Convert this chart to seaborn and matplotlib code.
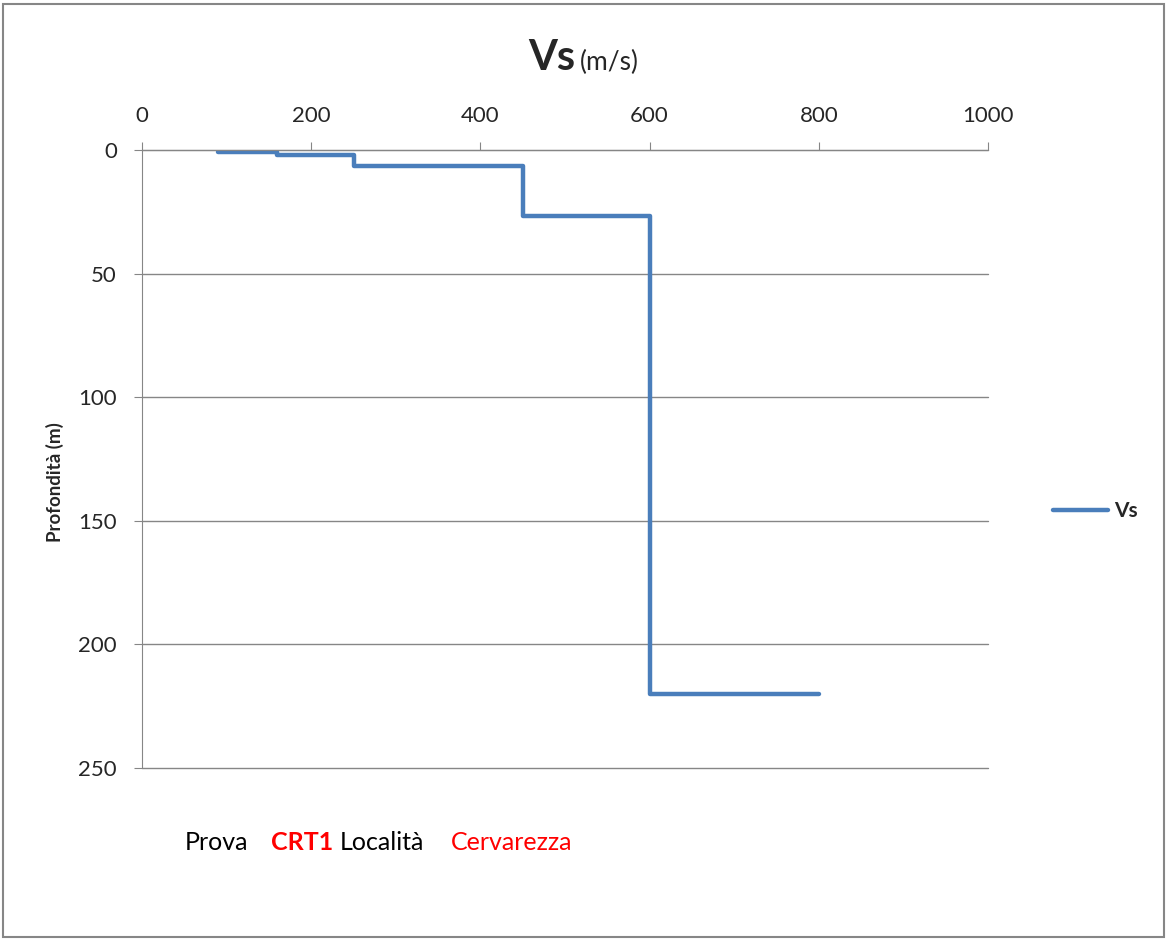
import matplotlib
matplotlib.use("Agg")
import matplotlib.pyplot as plt
import seaborn as sns
import pandas as pd

# Vs profile (step): velocity of each layer and depth of its base
velocita = [90, 160, 250, 450, 600, 800]
profondita = [1, 2, 6.5, 26.5, 220, 220]

df = pd.DataFrame({"Vs": velocita, "Profondita": profondita})

sns.set_style("white")
plt.rcParams["font.family"] = ["Lato", "DejaVu Sans"]

W, H = 1168, 940
fig = plt.figure(figsize=(W / 100, H / 100), dpi=100)
ax = fig.add_axes([142 / W, 1 - 768 / H, (988 - 142) / W, (768 - 150) / H])

sns.lineplot(data=df, x="Vs", y="Profondita", ax=ax, sort=False,
             drawstyle="steps-post", color="#4a7ebb", linewidth=3.2,
             label="Vs", legend=False)

ax.set_xlim(0, 1000)
ax.set_ylim(250, 0)
ax.set_xticks(range(0, 1001, 200))
ax.set_yticks(range(0, 251, 50))
ax.xaxis.tick_top()
ax.tick_params(axis="x", top=True, bottom=False, direction="out", length=6,
               color="#868686", labelsize=16, pad=11)
ax.tick_params(axis="y", left=True, direction="out", length=6,
               color="#868686", labelsize=16, pad=12)
ax.grid(axis="y", color="#868686", linewidth=1)
ax.grid(axis="x", visible=False)
for gl in ax.get_ygridlines():
    gl.set_clip_on(False)
for side in ["right", "bottom"]:
    ax.spines[side].set_visible(False)
ax.spines["left"].set_color("#868686")
ax.spines["top"].set_color("#868686")
ax.set_xlabel("")
ax.set_ylabel("Profondità (m)", fontsize=13.5, fontweight="bold", va="center")
ax.yaxis.set_label_coords((55 - 142) / 846, (768 - 482) / 618)

# title
tb = 1 - 70 / H
fig.text(575 / W, tb, "Vs", fontsize=30, fontweight="bold", ha="right", va="baseline")
fig.text(580 / W, tb, "(m/s)", fontsize=19, ha="left", va="baseline")

# footer
fy = 1 - 843 / H
fig.text(185 / W, fy, "Prova", fontsize=18, color="black", va="center")
fig.text(271 / W, fy, "CRT1", fontsize=18, color="red", fontweight="bold", va="center")
fig.text(340 / W, fy, "Località", fontsize=18, color="black", va="center")
fig.text(451 / W, fy, "Cervarezza", fontsize=18, color="red", va="center")

leg = fig.legend(loc="center left", bbox_to_anchor=(1045 / W, 1 - 511 / H), frameon=False,
                 handlelength=2.6, handletextpad=0.3, borderaxespad=0,
                 prop={"weight": "bold", "size": 15})

# outer frame
fig.patches.append(plt.Rectangle((3 / W, 3 / H), 1 - 7 / W, 1 - 7 / H, transform=fig.transFigure,
                                 fill=False, edgecolor="#868686", linewidth=1.5))

fig.savefig("out.png", dpi=100)
